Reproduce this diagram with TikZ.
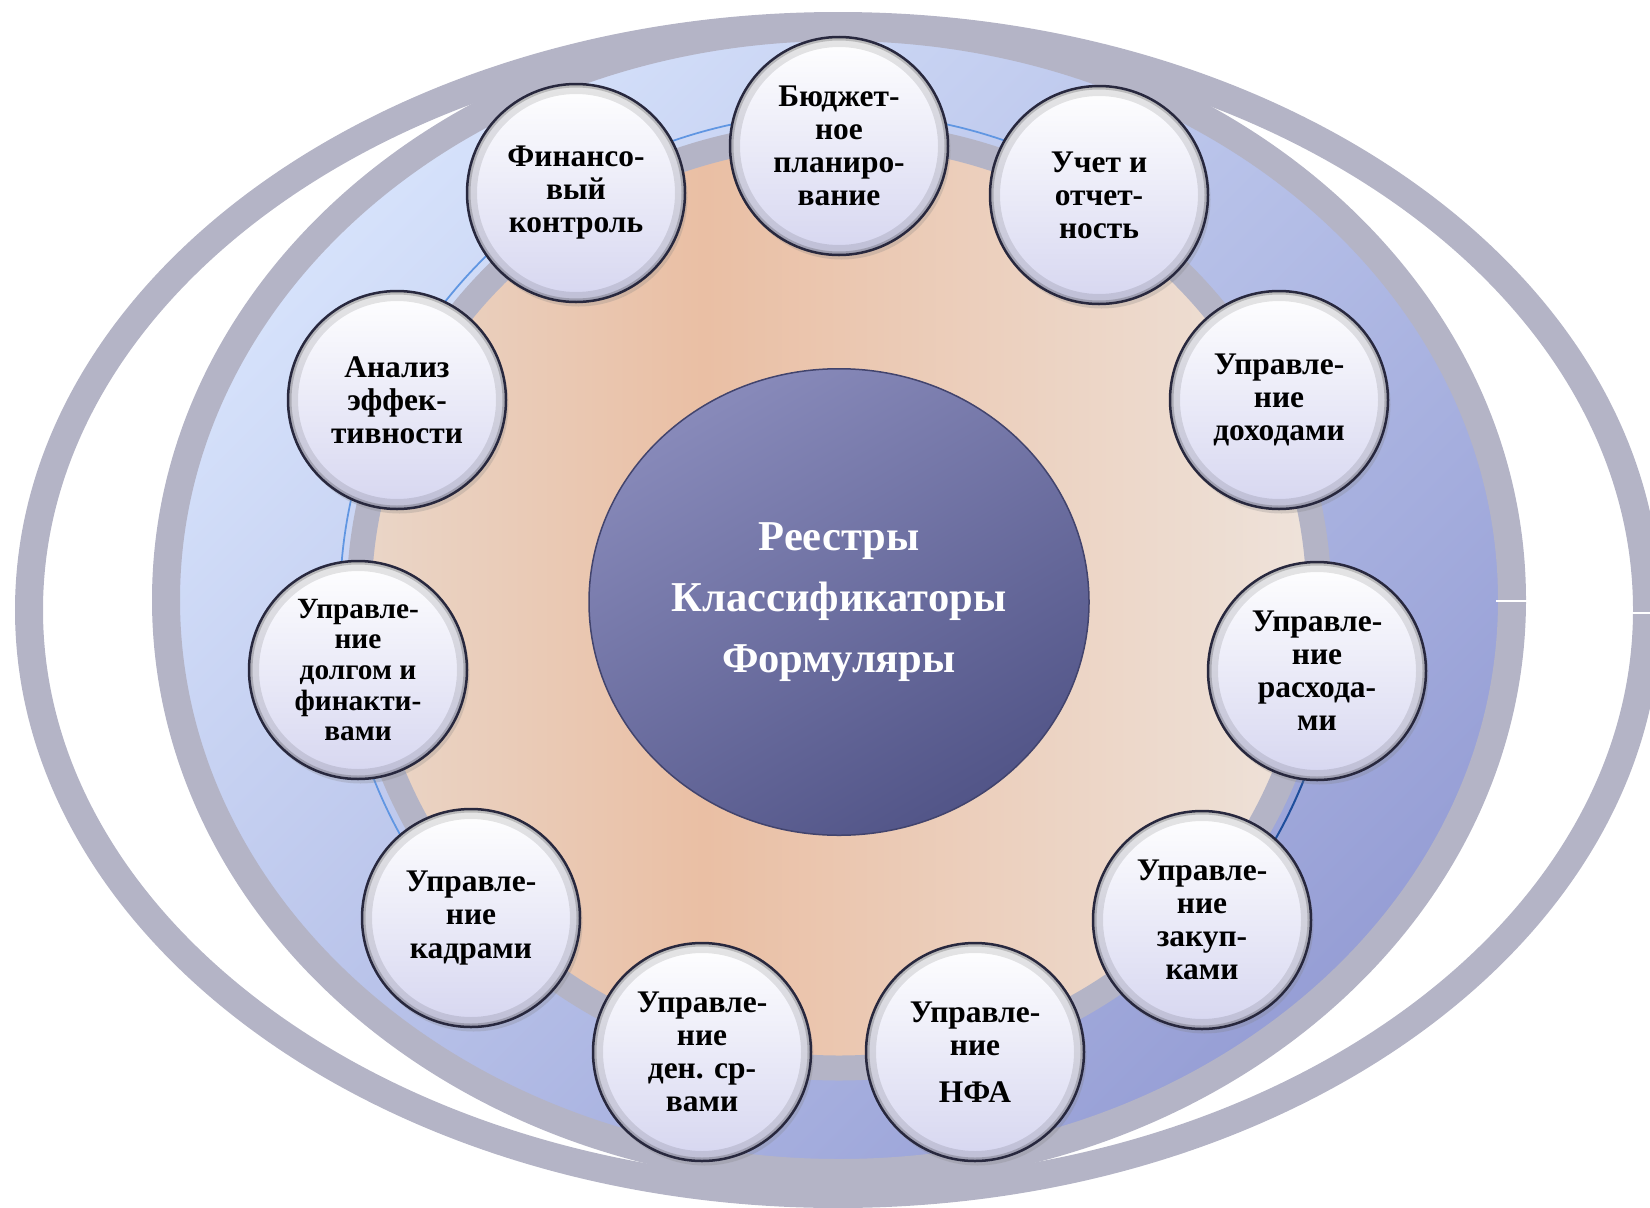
\documentclass[tikz,border=0pt]{standalone}
\usepackage{fontspec}
\setmainfont{Liberation Serif}
\usetikzlibrary{shapes.geometric,shadows}

\definecolor{ringgray}{RGB}{180,180,198}
\definecolor{bluelight}{RGB}{214,226,251}
\definecolor{bluedark}{RGB}{150,158,213}
\definecolor{peachleft}{RGB}{234,214,200}
\definecolor{peachmid}{RGB}{234,191,164}
\definecolor{peachright}{RGB}{238,227,219}
\definecolor{hublight}{RGB}{136,138,186}
\definecolor{hubdark}{RGB}{82,85,136}
\definecolor{bubbleedge}{RGB}{40,40,62}
\definecolor{bubblelow}{RGB}{214,214,240}
\definecolor{lineblue}{RGB}{96,150,226}
\definecolor{deepblue}{RGB}{30,78,156}

\pgfdeclarehorizontalshading{peachshade}{100bp}{color(0bp)=(peachleft); color(25bp)=(peachleft); color(43bp)=(peachmid); color(75bp)=(peachright); color(100bp)=(peachright)}

\tikzset{
  ring/.style={draw=ringgray, line width=5.6mm},
  bubble/.style={circle, minimum size=43.6mm, inner sep=0pt, align=center,
    draw=bubbleedge, line width=0.5mm, top color=white, bottom color=bubblelow,
    drop shadow={shadow xshift=0.5mm, shadow yshift=-0.9mm, opacity=0.25},
    path picture={
      \draw[black, opacity=0.10, line width=4mm] (path picture bounding box.center) circle (21.8mm);
      \draw[black, opacity=0.18, line width=1.4mm] (path picture bounding box.center) circle (21.8mm);
    },
    font=\bfseries\fontsize{17.9pt}{18.8pt}\selectfont},
  hub/.style={ellipse, minimum width=100mm, minimum height=93.3mm, inner sep=0pt, align=center,
    draw=hubdark!80!black, line width=0.3mm, top color=hublight, bottom color=hubdark,
    shading angle=30, text=white, font=\bfseries\fontsize{24.2pt}{34.7pt}\selectfont}
}

\begin{document}
\begin{tikzpicture}[x=0.2mm, y=-0.2mm]
  \useasboundingbox (0,0) rectangle (1650,1208);
  % outer rings
  \begin{scope}
    \clip (0,0) rectangle (1650,1208);
    \draw[ring] (838,610) ellipse [x radius=809, y radius=584];
  \end{scope}
  \draw[ring, top color=bluelight, bottom color=bluedark, shading angle=45]
    (839,600) ellipse [x radius=673, y radius=573];
  \draw[white, line width=0.25mm] (1496,601) -- (1527,601) (1631,613) -- (1650,613);
  % inner disc
  \draw[lineblue, line width=0.35mm] (1088.5,178.5) arc [start angle=-60, end angle=-215, x radius=499, y radius=489];
  \draw[deepblue, line width=0.4mm] (1307.9,769.2) arc [start angle=20, end angle=31, x radius=499, y radius=489];
  \shadedraw[shading=peachshade, draw=ringgray, line width=5mm]
    (839,601) ellipse [x radius=480, y radius=467];

  \node[hub] (hub) at (839,602) {Реестры\\Классификаторы\\Формуляры};

  \node[bubble] (budget)   at (839,146)  {Бюджет-\\ное\\планиро-\\вание};
  \node[bubble] (account)  at (1099,195) {Учет и\\отчет-\\ность};
  \node[bubble] (income)   at (1279,400) {Управле-\\ние\\доходами};
  \node[bubble] (expense)  at (1317,671) {Управле-\\ние\\расхода-\\ми};
  \node[bubble] (purchase) at (1202,920) {Управле-\\ние\\закуп-\\ками};
  \node[bubble] (assets)   at (975,1052) {Управле-\\ние\\[2.8mm]НФА};
  \node[bubble] (cash)     at (702,1052) {Управле-\\ние\\ден. ср-\\вами};
  \node[bubble] (staff)    at (471,918)  {Управле-\\ние\\кадрами};
  \node[bubble, font=\bfseries\fontsize{16.7pt}{17.4pt}\selectfont]
                (debt)     at (358,670)  {Управле-\\ние\\долгом и\\финакти-\\вами};
  \node[bubble] (analysis) at (397,400)  {Анализ\\эффек-\\тивности};
  \node[bubble] (control)  at (576,193)  {Финансо-\\вый\\контроль};
\end{tikzpicture}
\end{document}
